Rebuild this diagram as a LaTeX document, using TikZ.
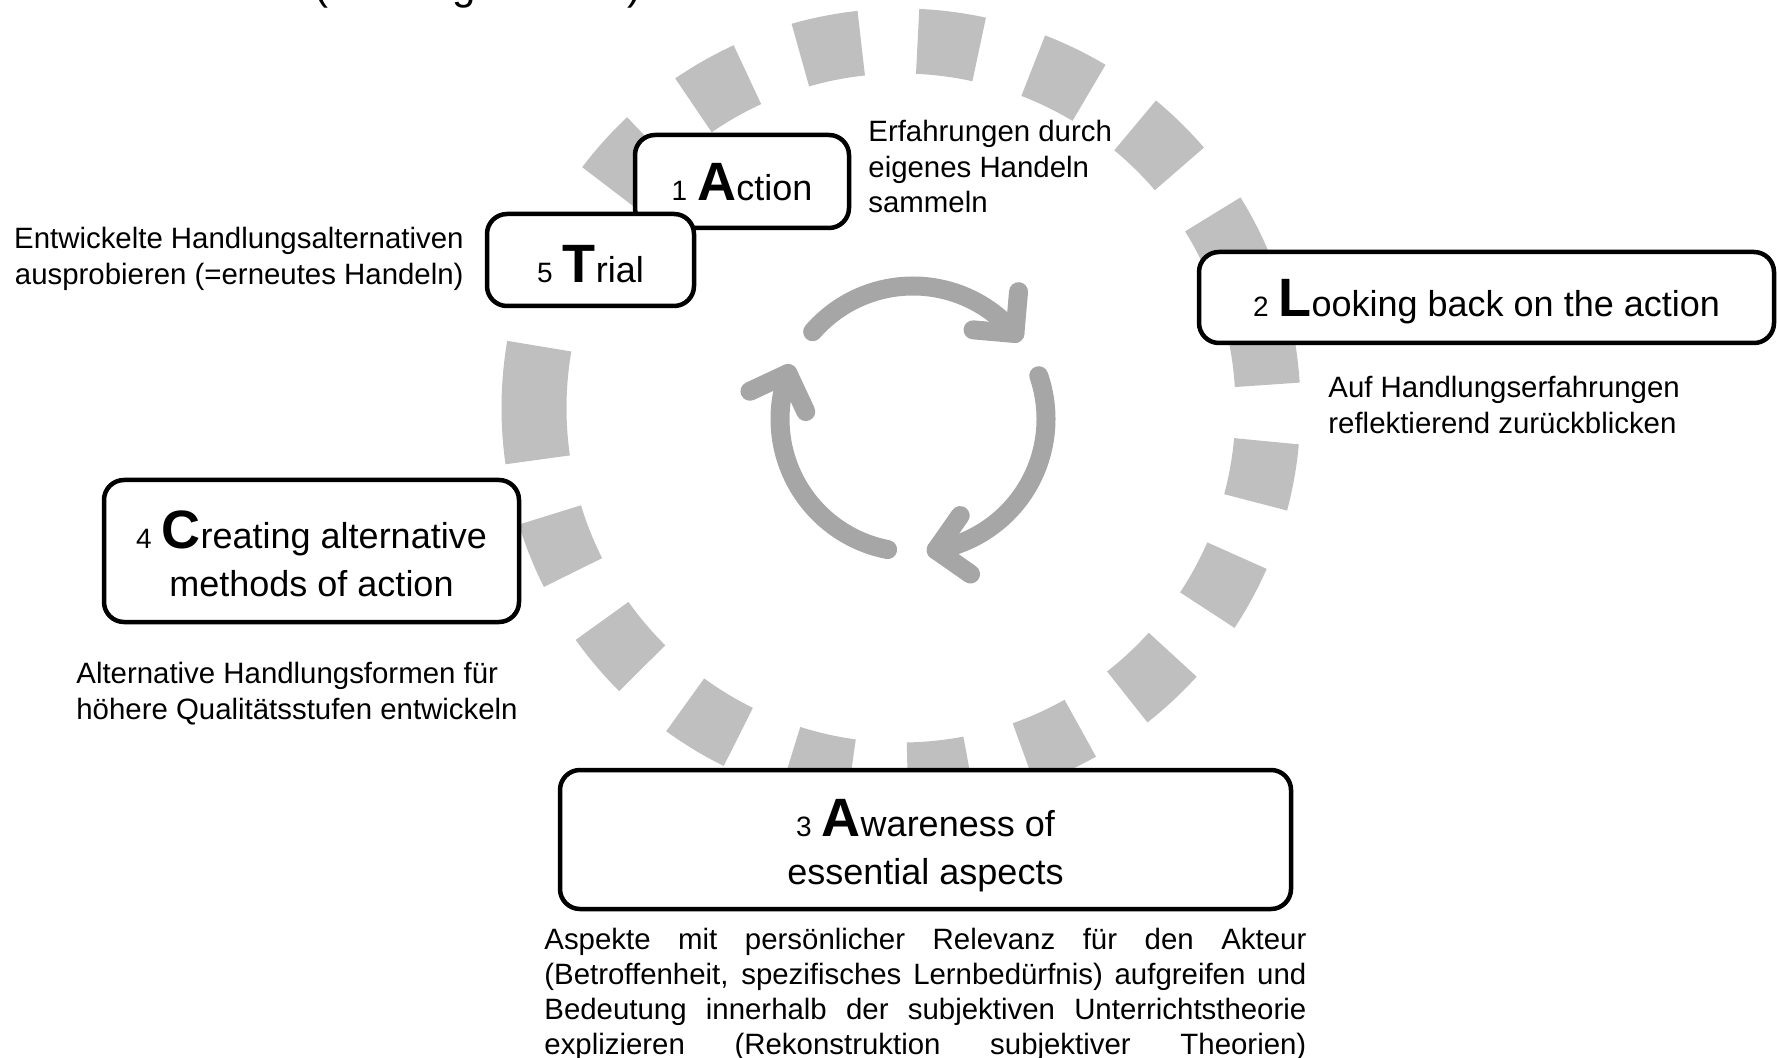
\documentclass[tikz,border=0pt]{standalone}
\usepackage{fontspec}
\setmainfont{Liberation Sans}
\usetikzlibrary{calc}
\definecolor{dashgray}{HTML}{BFBFBF}
\definecolor{arrgray}{HTML}{A6A6A6}
\newcommand\dignum[1]{{\fontsize{14}{16}\selectfont #1}}
\newcommand\initial[1]{{\fontsize{27}{30}\selectfont\bfseries #1}}
\begin{document}
\begin{tikzpicture}[x=0.5pt,y=0.5pt,
  stagebox/.style={draw=black, line width=2.25pt, rounded corners=10pt, fill=white, inner sep=0pt, align=center, font=\fontsize{18}{24}\selectfont, text depth=0pt},
  note/.style={inner sep=0pt, font=\fontsize{14.7}{17.75}\selectfont},
  ring/.style={draw=dashgray, line width=32.5pt},
  cyc/.style={draw=arrgray, line width=9.5pt, line cap=round, line join=round}]
\useasboundingbox (0,0) rectangle (1777,-1058);
\clip (0,0) rectangle (1777,-1058);
% dashed ring
\coordinate (rc) at (901,-408);
\foreach \k in {0,...,18}{
  \draw[ring] ($(rc)+({180-\k*18.52}:367)$) arc[start angle={180-\k*18.52}, end angle={180-\k*18.52-9.7}, radius=367];
}
\draw[ring] ($(rc)+(-171.88:367)$) arc[start angle=-171.88, end angle=-180, radius=367];
% cycle arrows
\coordinate (ac) at (913,-419);
\foreach \s/\e in {139/40, 19/-80, -101/-200}{
  \draw[cyc] ($(ac)+(\s:133)$) arc[start angle=\s, end angle=\e, radius=133];
  \draw[cyc] ($(ac)+(\e:133)+({\e+45}:42)$) -- ($(ac)+(\e:133)$) -- ($(ac)+(\e:133)+({\e+135}:42)$);
}
% source line (cut off at top)
\node[anchor=base west, inner sep=0pt, font=\fontsize{21}{25}\selectfont] (src) at (314,0.4) {(Korthagen 2001)};
% stage boxes
\node[stagebox, minimum width=107pt, minimum height=46.5pt] (act) at (742,-181.5) {\dignum{1}~\initial{A}ction};
\node[stagebox, minimum width=103.5pt, minimum height=46pt, text height=22.5pt] (tri) at (590.5,-260) {\dignum{5}~\initial{T}rial};
\node[stagebox, minimum width=287.5pt, minimum height=45.5pt] (look) at (1486.5,-297.5) {\dignum{2}~\initial{L}ooking back on the action};
\node[stagebox, minimum width=207.5pt, minimum height=71pt, text height=45.4pt] (crea) at (311.5,-551) {\dignum{4}~\initial{C}reating alternative\\methods of action};
\node[stagebox, minimum width=365.5pt, minimum height=69.5pt, text height=44.5pt] (awa) at (925.5,-839.5) {\dignum{3}~\initial{A}wareness of\\essential aspects};
% notes
\node[note, anchor=north west, align=left] (n1) at (868,-120) {Erfahrungen durch\\eigenes Handeln\\sammeln};
\node[note, anchor=north east, align=right] (n5) at (464,-227) {Entwickelte Handlungsalternativen\\ausprobieren (=erneutes Handeln)};
\node[note, anchor=north west, align=left] (n2) at (1328,-376) {Auf Handlungserfahrungen\\reflektierend zurückblicken};
\node[note, anchor=north west, align=left] (n4) at (76,-662) {Alternative Handlungsformen für\\höhere Qualitätsstufen entwickeln};
\node[note, anchor=north west, align=left, font=\fontsize{14.7}{17.4}\selectfont] (n3) at (544,-928) {%
\makebox[381pt][s]{Aspekte mit persönlicher Relevanz für den Akteur}\\
\makebox[381pt][s]{(Betroffenheit, spezifisches Lernbedürfnis) aufgreifen und}\\
\makebox[381pt][s]{Bedeutung innerhalb der subjektiven Unterrichtstheorie}\\
\makebox[381pt][s]{explizieren (Rekonstruktion subjektiver Theorien)}};
\end{tikzpicture}
\end{document}
